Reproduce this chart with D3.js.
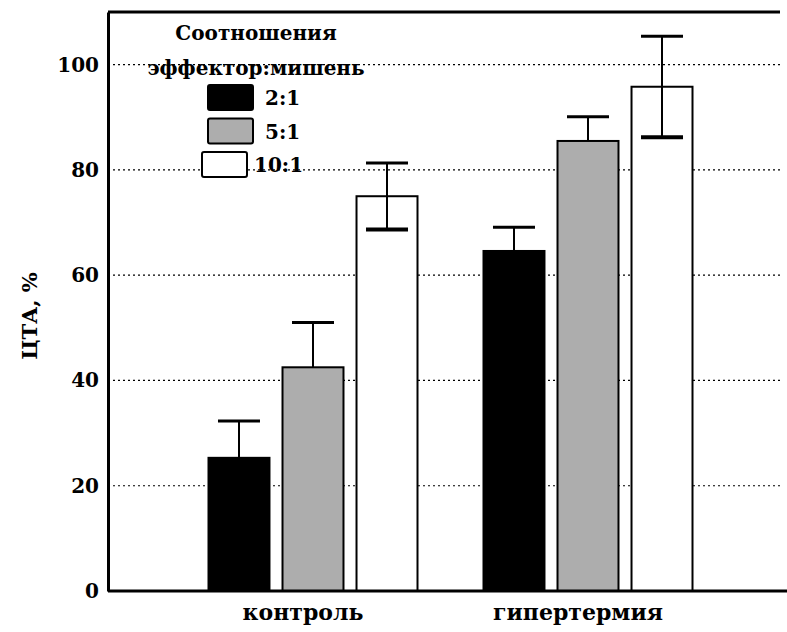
<!DOCTYPE html>
<html lang="ru">
<head>
<meta charset="utf-8">
<script src="https://cdn.jsdelivr.net/npm/d3@7"></script>
<style>
  body { margin: 0; background: #fff; }
  text { font-family: "DejaVu Serif", "Liberation Serif", serif; fill: #000; }
</style>
</head>
<body>
<script>
// categories and series
var groups = ["контроль", "гипертермия"];
var ratios = ["2:1", "5:1", "10:1"];
var fills = ["#000000", "#adadad", "#ffffff"];
var controlVals = [25.3, 42.5, 75];
var hyperVals = [64.6, 85.5, 95.8];
var controlErr = [7, 8.5, 6.3];
var hyperErr = [4.5, 4.6, 9.6];
var yTicks = [0, 20, 40, 60, 80, 100];
var legendTitle = ["Соотношения", "эффектор:мишень"];
var yLabel = "ЦТА, %";

var w = 787, h = 632;
var padLeft = 108, padRight = 780, padTop = 12, padBottom = 591;

var svg = d3.select("body").append("svg")
    .attr("width", w)
    .attr("height", h);

var y = d3.scaleLinear().domain([0, 110]).range([padBottom, padTop]);
var x0 = d3.scaleBand().domain(groups).range([175.5, 725.5]).padding(0);
var x1 = d3.scaleBand().domain(ratios).range([33, 242]).paddingInner(0.176).paddingOuter(0);

var data = [];
groups.forEach(function(g, gi) {
  var vals = gi == 0 ? controlVals : hyperVals;
  var errs = gi == 0 ? controlErr : hyperErr;
  ratios.forEach(function(r, ri) {
    data.push({ group: g, ratio: r, value: vals[ri], err: errs[ri], fill: fills[ri], idx: ri });
  });
});

// dotted grid
svg.append("g").selectAll("line")
  .data(yTicks.filter(function(d) { return d > 0; }))
  .enter().append("line")
  .attr("x1", padLeft).attr("x2", padRight)
  .attr("y1", function(d) { return y(d); })
  .attr("y2", function(d) { return y(d); })
  .attr("stroke", "#000")
  .attr("stroke-width", 1.2)
  .attr("stroke-dasharray", "2,3");

// bars
svg.append("g").selectAll("rect")
  .data(data)
  .enter().append("rect")
  .attr("x", function(d) { return x0(d.group) + x1(d.ratio); })
  .attr("y", function(d) { return y(d.value); })
  .attr("width", x1.bandwidth())
  .attr("height", function(d) { return y(0) - y(d.value); })
  .attr("fill", function(d) { return d.fill; })
  .attr("stroke", "#000")
  .attr("stroke-width", 2);

// error bars
var eb = svg.append("g").selectAll("g")
  .data(data)
  .enter().append("g")
  .attr("transform", function(d) { return "translate(" + (x0(d.group) + x1(d.ratio) + x1.bandwidth() / 2) + ",0)"; });

eb.append("line")
  .attr("x1", 0).attr("x2", 0)
  .attr("y1", function(d) { return y(d.value + d.err); })
  .attr("y2", function(d) { return d.idx == 2 ? y(d.value - d.err) : y(d.value); })
  .attr("stroke", "#000").attr("stroke-width", 2);

eb.append("line")
  .attr("x1", -21).attr("x2", 21)
  .attr("y1", function(d) { return y(d.value + d.err); })
  .attr("y2", function(d) { return y(d.value + d.err); })
  .attr("stroke", "#000").attr("stroke-width", 3);

eb.filter(function(d) { return d.idx == 2; }).append("line")
  .attr("x1", -21).attr("x2", 21)
  .attr("y1", function(d) { return y(d.value - d.err); })
  .attr("y2", function(d) { return y(d.value - d.err); })
  .attr("stroke", "#000").attr("stroke-width", 4);

// frame
svg.append("line").attr("x1", padLeft).attr("x2", padRight).attr("y1", padTop).attr("y2", padTop)
  .attr("stroke", "#000").attr("stroke-width", 3);
svg.append("line").attr("x1", padLeft).attr("x2", w).attr("y1", padBottom).attr("y2", padBottom)
  .attr("stroke", "#000").attr("stroke-width", 3);

// y axis
var yAxis = svg.append("g")
  .attr("transform", "translate(" + padLeft + ",0)")
  .call(d3.axisLeft(y).tickValues(yTicks).tickSize(0).tickPadding(9));
yAxis.select(".domain").attr("stroke", "#000").attr("stroke-width", 3);
yAxis.selectAll("text")
  .style("font-family", "DejaVu Serif")
  .style("font-size", "20px")
  .style("font-weight", "bold");

// x labels
svg.append("g").selectAll("text")
  .data(groups)
  .enter().append("text")
  .attr("x", function(d) { return x0(d) + x0.bandwidth() / 2 - 10; })
  .attr("y", 620)
  .attr("text-anchor", "middle")
  .style("font-size", "22px")
  .style("font-weight", "bold")
  .text(function(d) { return d; });

// y label
svg.append("text")
  .attr("transform", "translate(37,316) rotate(-90)")
  .attr("text-anchor", "middle")
  .style("font-size", "21px")
  .style("font-weight", "bold")
  .text(yLabel);

// legend
var lg = svg.append("g");
lg.selectAll("text.title")
  .data(legendTitle)
  .enter().append("text")
  .attr("class", "title")
  .attr("x", 256)
  .attr("y", function(d, i) { return 40 + i * 35; })
  .attr("text-anchor", "middle")
  .style("font-size", "20px")
  .style("font-weight", "bold")
  .text(function(d) { return d; });

var items = lg.selectAll("g.item")
  .data(ratios)
  .enter().append("g")
  .attr("class", "item")
  .attr("transform", function(d, i) { return "translate(" + (i == 2 ? 202 : 208) + "," + (85 + i * 33.5) + ")"; });

items.append("rect")
  .attr("width", 45).attr("height", 25)
  .attr("rx", 2)
  .attr("fill", function(d, i) { return fills[i]; })
  .attr("stroke", "#000").attr("stroke-width", 2);

items.append("text")
  .attr("x", function(d, i) { return i == 2 ? 52 : 57; })
  .attr("y", 20)
  .style("font-size", "20px")
  .style("font-weight", "bold")
  .text(function(d) { return d; });
</script>
</body>
</html>
